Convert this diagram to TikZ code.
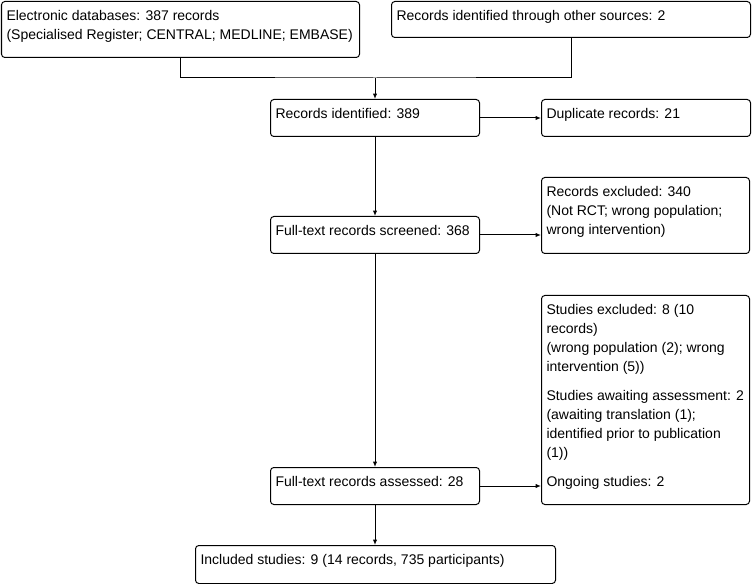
\documentclass[tikz,border=0pt]{standalone}
\usepackage{fontspec}
\setmainfont{Liberation Sans}
\usetikzlibrary{arrows.meta}
\newcommand{\bxt}[3]{\parbox[c][\dimexpr 0.75pt*#2-8.6pt\relax][t]{\dimexpr 0.75pt*#1-7.5pt\relax}{\raggedright\strut #3}}
\tikzset{
  box/.style={draw, line width=0.75pt, rounded corners=2.5pt, anchor=north west,
    inner xsep=3.75pt, inner ysep=4.3pt, font=\fontsize{10.5}{14.25}\selectfont},
  arr/.style={line width=0.75pt, -{Latex[length=4pt,width=3.2pt]}},
  ln/.style={line width=0.75pt}
}
\begin{document}
\begin{tikzpicture}[x=0.75pt,y=-0.75pt]
\useasboundingbox (0,0) rectangle (753,584);
\node[box] (b1) at (1,1) {\bxt{358}{56}{Electronic databases: 387 records\\(Specialised Register; CENTRAL; MEDLINE; EMBASE)}};
\node[box] (b2) at (391,1) {\bxt{359}{36}{Records identified through other sources: 2}};
\node[box] (ri) at (270,99) {\bxt{209}{37}{Records identified: 389}};
\node[box] (dup) at (541,99) {\bxt{209}{37}{Duplicate records: 21}};
\node[box] (scr) at (270,216) {\bxt{209}{37}{Full-text records screened: 368}};
\node[box] (exc) at (541,177) {\bxt{208}{76}{Records excluded: 340\\(Not RCT; wrong population;\\wrong intervention)}};
\node[box] (ass) at (270,467) {\bxt{209}{37}{Full-text records assessed: 28}};
\node[box] (stud) at (541,295) {\bxt{208}{209}{Studies excluded: 8 (10\\records)\\(wrong population (2); wrong\\intervention (5))\\[7.5pt]Studies awaiting assessment: 2\\(awaiting translation (1);\\identified prior to publication\\(1))\\[7.5pt]Ongoing studies: 2}};
\node[box] (inc) at (195,545) {\bxt{360}{38}{Included studies: 9 (14 records, 735 participants)}};
\coordinate (j) at (ri.north |- 0,78);
\draw[ln] (b1.south) |- (j) -| (b2.south);
\draw[arr] (j) -- (ri.north);
\draw[arr] (ri.east) -- (dup.west);
\draw[arr] (ri.south) -- (scr.north);
\draw[arr] (scr.east) -- (scr.east -| exc.west);
\draw[arr] (scr.south) -- (ass.north);
\draw[arr] (ass.east) -- (ass.east -| stud.west);
\draw[arr] (ass.south) -- (ass.south |- inc.north);
\end{tikzpicture}
\end{document}
